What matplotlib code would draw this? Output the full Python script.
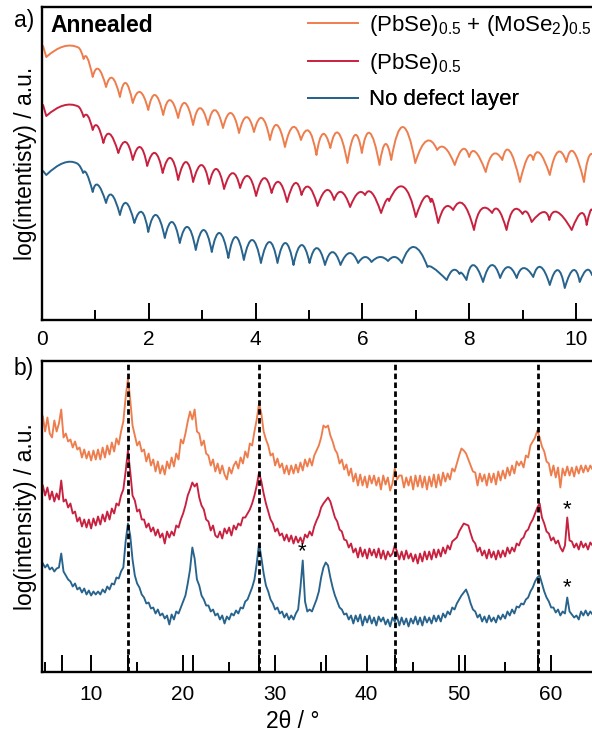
import numpy as np
import matplotlib
matplotlib.use("Agg")
import matplotlib.pyplot as plt
from matplotlib.ticker import MultipleLocator
from matplotlib.path import Path
from matplotlib.patches import PathPatch
from matplotlib.lines import Line2D

plt.rcParams['font.family'] = ['Liberation Sans', 'DejaVu Sans']
plt.rcParams['mathtext.default'] = 'regular'
plt.rcParams['font.size'] = 16.5

c_orange = '#EE7D4D'
c_red = '#C8213F'
c_blue = '#27638C'

labels = [r'(PbSe)$_{0.5}$ + (MoSe$_2$)$_{0.5}$', r'(PbSe)$_{0.5}$', 'No defect layer']

# --- a) reflectivity: start point, first minimum, then (maximum, minimum) pairs of the fringes
xrr_orange = [(0.02, 274), (0.08, 263),
              (0.4, 273.5), (0.68, 272.5), (0.73, 269), (0.78, 261), (0.85, 262), (0.95, 243),
              (1.06, 251), (1.20, 233),
              (1.32, 242), (1.46, 223), (1.57, 237), (1.70, 217), (1.84, 228), (1.99, 210),
              (2.12, 225), (2.27, 205), (2.40, 220), (2.55, 202), (2.68, 217), (2.83, 195),
              (2.96, 212), (3.11, 195), (3.24, 210), (3.39, 192), (3.54, 207), (3.69, 187),
              (3.83, 203), (3.97, 188), (4.12, 202), (4.27, 180), (4.40, 195), (4.55, 173),
              (4.70, 193), (4.85, 180), (5.0, 189), (5.14, 165), (5.26, 186), (5.40, 172),
              (5.55, 187), (5.72, 157), (5.86, 185), (5.99, 167), (6.14, 187), (6.32, 155),
              (6.43, 176), (6.54, 160), (6.76, 193), (6.99, 157), (7.2, 179), (7.4, 170),
              (7.55, 172), (7.73, 155), (7.88, 171), (8.0, 163), (8.12, 168), (8.31, 148),
              (8.45, 166), (8.62, 160), (8.76, 169), (8.95, 138), (9.1, 163), (9.2, 160),
              (9.32, 167), (9.51, 145), (9.66, 168), (9.82, 158), (9.96, 168), (10.15, 138),
              (10.22, 160), (10.3, 166)]

xrr_red = [(0.02, 215), (0.08, 204),
           (0.4, 214.5), (0.68, 213.5), (0.73, 210), (0.78, 203), (0.86, 204), (0.95, 190),
           (1.04, 194), (1.15, 177),
           (1.27, 186), (1.43, 167), (1.57, 178), (1.70, 160), (1.84, 173), (1.97, 154),
           (2.12, 167), (2.26, 147), (2.41, 162), (2.55, 140), (2.70, 158), (2.83, 138),
           (2.99, 155), (3.13, 136), (3.27, 151), (3.41, 131), (3.57, 147), (3.71, 132),
           (3.86, 144), (4.01, 124), (4.16, 142), (4.30, 127), (4.44, 138), (4.59, 118),
           (4.74, 137), (4.86, 125), (5.0, 133), (5.16, 114), (5.33, 130), (5.47, 120),
           (5.61, 128), (5.77, 113), (5.92, 127), (6.05, 125), (6.18, 127), (6.35, 107),
           (6.45, 120), (6.5, 119), (6.77, 133), (7.0, 103), (7.17, 123), (7.28, 118),
           (7.32, 119), (7.42, 97), (7.55, 113), (7.7, 110), (7.89, 116), (8.09, 90),
           (8.23, 111), (8.43, 107), (8.55, 110), (8.70, 90), (8.83, 110), (9.0, 106),
           (9.08, 108), (9.17, 98), (9.39, 108), (9.5, 100), (9.65, 108), (9.92, 90),
           (10.1, 107), (10.2, 95), (10.26, 108), (10.3, 110)]

xrr_blue = [(0.02, 149), (0.08, 145),
            (0.4, 157), (0.66, 156.5), (0.72, 153), (0.77, 147), (0.84, 146), (0.95, 128),
            (1.05, 135), (1.20, 117),
            (1.31, 125), (1.46, 105), (1.58, 117), (1.73, 97), (1.87, 108), (1.99, 88),
            (2.14, 105), (2.30, 82), (2.44, 98), (2.58, 77), (2.73, 93), (2.88, 70),
            (3.03, 90), (3.18, 68), (3.33, 87), (3.49, 62), (3.63, 83), (3.78, 60),
            (3.94, 80), (4.10, 57), (4.26, 78), (4.41, 57), (4.56, 77), (4.71, 55),
            (4.86, 75), (5.01, 57), (5.15, 72), (5.30, 55), (5.44, 68), (5.59, 55),
            (5.76, 67), (5.92, 57), (6.05, 63), (6.17, 58), (6.33, 63), (6.48, 59),
            (6.61, 63), (6.74, 57), (6.97, 73), (7.22, 53), (7.33, 52), (7.58, 40),
            (7.70, 50), (7.82, 46), (7.86, 47), (7.95, 40), (8.08, 55), (8.26, 38),
            (8.42, 55), (8.58, 42), (8.73, 53), (8.89, 42), (9.02, 52), (9.2, 43),
            (9.34, 53), (9.51, 35), (9.66, 50), (9.79, 32), (9.95, 50), (10.07, 38),
            (10.2, 50), (10.3, 45)]

# --- b) diffraction scan, 0.25 deg steps from 4.8 deg (two degrees per line)
xrd_start, xrd_step = 4.8, 0.25
xrd_orange = [255, 240, 254, 238, 234, 251, 240, 248,
              262, 234, 238, 230, 232, 224, 230, 222,
              224, 214, 222, 213, 220, 211, 221, 212,
              222, 212, 224, 214, 226, 217, 229, 220,
              233, 227, 240, 250, 274, 293, 272, 246,
              236, 226, 230, 220, 222, 210, 218, 206,
              212, 200, 210, 198, 206, 197, 210, 203,
              214, 205, 218, 212, 232, 228, 238, 250,
              260, 252, 262, 240, 238, 226, 231, 218,
              216, 206, 212, 200, 208, 198, 206, 197,
              192, 204, 198, 206, 210, 203, 214, 208,
              220, 214, 228, 226, 240, 252, 268, 258,
              240, 232, 226, 216, 218, 206, 213, 204,
              208, 198, 206, 197, 206, 198, 207, 199,
              209, 201, 212, 205, 213, 206, 216, 221,
              226, 234, 246, 244, 246, 236, 230, 222,
              218, 208, 212, 202, 207, 196, 203, 190,
              198, 186, 197, 186, 195, 184, 196, 188,
              196, 186, 194, 182, 196, 187, 194, 181,
              188, 203, 192, 196, 196, 184, 194, 186,
              195, 182, 196, 185, 196, 184, 195, 182,
              195, 185, 197, 184, 197, 186, 199, 190,
              198, 192, 203, 200, 208, 216, 223, 221,
              218, 212, 206, 200, 199, 186, 198, 190,
              197, 186, 198, 189, 198, 187, 200, 191,
              201, 193, 204, 196, 206, 198, 210, 206,
              210, 204, 216, 214, 226, 230, 234, 241,
              234, 225, 220, 210, 208, 196, 206, 194,
              204, 184, 203, 196, 205, 196, 204, 195,
              205, 198, 206, 199, 206, 200, 206, 202]

xrd_red = [186, 176, 184, 172, 180, 170, 178, 172,
           191, 170, 172, 164, 168, 158, 160, 150,
           154, 145, 152, 144, 152, 143, 153, 146,
           155, 147, 157, 150, 160, 152, 163, 158,
           168, 166, 176, 182, 200, 221, 200, 176,
           171, 160, 162, 152, 152, 144, 148, 140,
           144, 136, 142, 134, 138, 128, 140, 134,
           140, 136, 146, 144, 152, 158, 166, 176,
           182, 189, 185, 188, 174, 166, 162, 152,
           150, 141, 146, 136, 134, 140, 133, 143,
           138, 144, 136, 146, 142, 148, 146, 154,
           154, 158, 162, 168, 176, 186, 199, 190,
           178, 168, 160, 152, 148, 140, 143, 136,
           138, 131, 137, 130, 136, 128, 135, 129,
           134, 128, 137, 134, 140, 136, 145, 151,
           156, 164, 168, 171, 174, 170, 162, 154,
           150, 142, 140, 132, 131, 124, 128, 119,
           123, 114, 124, 115, 122, 113, 123, 116,
           122, 114, 123, 113, 121, 112, 120, 115,
           118, 126, 120, 112, 120, 112, 121, 113,
           118, 110, 117, 108, 118, 110, 120, 112,
           120, 112, 122, 114, 122, 115, 124, 118,
           126, 122, 130, 132, 134, 140, 144, 148,
           147, 146, 138, 131, 128, 120, 124, 116,
           121, 113, 122, 114, 120, 112, 121, 114,
           121, 115, 124, 118, 124, 120, 128, 126,
           132, 134, 140, 142, 148, 152, 158, 164,
           168, 154, 148, 140, 138, 131, 134, 128,
           131, 124, 120, 126, 154, 131, 130, 124,
           128, 122, 130, 124, 128, 122, 129, 126]

xrd_blue = [108, 104, 107, 102, 104, 100, 103, 104,
            118, 100, 96, 92, 90, 85, 88, 82,
            84, 79, 83, 77, 81, 76, 80, 77,
            80, 77, 82, 79, 85, 82, 88, 87,
            94, 93, 100, 104, 130, 148, 136, 112,
            96, 88, 84, 77, 74, 68, 69, 63,
            64, 58, 62, 56, 58, 53, 56, 47,
            57, 52, 60, 58, 64, 70, 76, 88,
            102, 124, 113, 92, 86, 76, 72, 66,
            66, 60, 62, 56, 58, 52, 56, 48,
            55, 52, 58, 56, 61, 58, 64, 63,
            70, 72, 78, 84, 92, 108, 128, 114,
            98, 86, 80, 72, 68, 62, 64, 58,
            60, 54, 58, 52, 56, 52, 58, 62,
            84, 111, 70, 60, 62, 60, 66, 72,
            80, 94, 104, 109, 106, 94, 84, 76,
            70, 64, 62, 57, 58, 52, 56, 48,
            56, 50, 57, 46, 55, 49, 56, 48,
            54, 46, 55, 50, 54, 47, 52, 45,
            54, 50, 55, 46, 54, 47, 53, 45,
            53, 48, 55, 47, 54, 46, 55, 49,
            54, 48, 56, 50, 56, 50, 58, 54,
            60, 57, 64, 62, 68, 72, 76, 79,
            82, 76, 68, 62, 60, 54, 57, 50,
            55, 49, 56, 50, 54, 49, 56, 52,
            57, 53, 60, 56, 62, 58, 65, 64,
            68, 67, 72, 74, 80, 84, 90, 94,
            96, 88, 80, 74, 70, 64, 64, 59,
            62, 56, 60, 58, 74, 60, 57, 54,
            56, 52, 60, 56, 61, 56, 60, 57]

# 00l positions (dashed) and reference sticks
dashed_pos = [14.09, 28.33, 43.08, 58.65]
stick_pos = [6.9, 14.05, 21.1, 28.35, 35.6, 43.1, 50.7, 58.65]
stick_height = 17
# substrate peaks marked with *
star_pts = [(32.93, 120), (61.73, 162), (61.73, 84)]


def fringe_path(pts):
    # cusp at every minimum, one quadratic arch through every maximum
    pts = np.array(pts, float)
    verts = [pts[0], pts[1]]
    codes = [Path.MOVETO, Path.LINETO]
    for i in range(2, len(pts) - 1, 2):
        top, p0, p1 = pts[i], pts[i - 1], pts[i + 1]
        verts += [2 * top - (p0 + p1) / 2, p1]
        codes += [Path.CURVE3, Path.CURVE3]
    return Path(verts, codes)


fig = plt.figure(figsize=(5.92, 7.32), dpi=100)
ax_a = fig.add_axes([42/592, 1-320/732, 550/592, 313/732])
ax_b = fig.add_axes([42/592, 1-671.5/732, 550/592, 310.5/732])

colors = [c_orange, c_red, c_blue]
for data, col in zip([xrr_orange, xrr_red, xrr_blue], colors):
    ax_a.add_patch(PathPatch(fringe_path(data), fc='none', ec=col, lw=1.4, capstyle='round',
                             joinstyle='round'))

for yv, col in zip([xrd_orange, xrd_red, xrd_blue], colors):
    tt = xrd_start + xrd_step * np.arange(len(yv))
    ax_b.plot(tt, yv, color=col, lw=1.35)

for x in dashed_pos:
    ax_b.axvline(x, color='k', ls=(0, (2, 1.2)), lw=2, zorder=3)
ax_b.vlines(stick_pos, 0, stick_height, color='k', lw=1.4)
for x, y in star_pts:
    ax_b.text(x, y, '*', ha='center', va='center', fontsize=16)

ax_a.set_xlim(0, 10.3)
ax_a.set_ylim(0, 313)
ax_b.set_xlim(4.71, 64.49)
ax_b.set_ylim(0, 310.5)

ax_a.xaxis.set_major_locator(MultipleLocator(2))
ax_a.xaxis.set_minor_locator(MultipleLocator(1))
ax_b.xaxis.set_major_locator(MultipleLocator(10))
ax_b.xaxis.set_minor_locator(MultipleLocator(5))

for ax, pad in [(ax_a, 7), (ax_b, 9.5)]:
    ax.set_yticks([])
    ax.spines['right'].set_visible(False)
    for s in ['left', 'top', 'bottom']:
        ax.spines[s].set_linewidth(1.7)
    ax.tick_params(which='major', direction='in', length=12, width=1.4, pad=pad, labelsize=15)
    ax.tick_params(which='minor', direction='in', length=7, width=1.4)

ax_a.set_ylabel('log(intentisty) / a.u.')
ax_a.yaxis.set_label_coords(-0.009, 0.5)
ax_b.set_ylabel('log(intensity) / a.u.')
ax_b.yaxis.set_label_coords(-0.009, 0.5)
ax_b.set_xlabel('2θ / °')
ax_b.xaxis.set_label_coords(0.456, -0.124)

# one legend per row so the rows sit evenly spaced
row_y = [25, 63, 100]
for col, lab, yy in zip(colors, labels, row_y):
    h = Line2D([], [], color=col, lw=1.4)
    leg = ax_a.legend([h], [lab], loc='center left', bbox_to_anchor=(308/592, 1-yy/732),
                      bbox_transform=fig.transFigure, frameon=False, borderpad=0,
                      borderaxespad=0, handlelength=2.25, handletextpad=0.5, fontsize=16)
    ax_a.add_artist(leg)

fig.text(24/592, 1-21/732, 'a)', ha='center', va='center')
fig.text(24/592, 1-368/732, 'b)', ha='center', va='center')
fig.text(50/592, 1-25/732, 'Annealed', ha='left', va='center', fontweight='bold')

fig.savefig('out.png', dpi=100)
